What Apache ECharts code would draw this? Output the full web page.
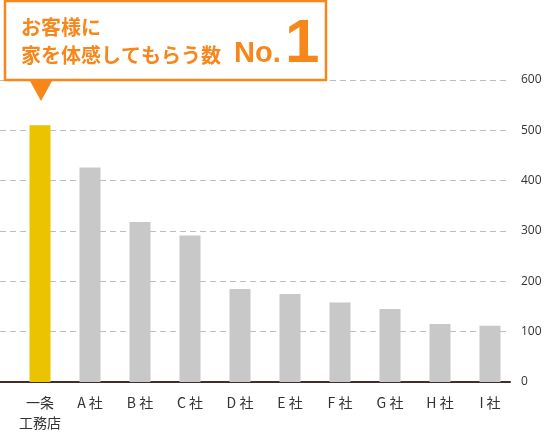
<!DOCTYPE html>
<html>
<head>
<meta charset="utf-8">
<script src="https://cdn.jsdelivr.net/npm/echarts@6/dist/echarts.min.js"></script>
<style>
  html, body { margin: 0; padding: 0; background: #fff; }
  #chart { width: 550px; height: 433px; }
</style>
</head>
<body>
<div id="chart"></div>
<script>
// categories / values
var companies = ['一条\n工務店', 'A 社', 'B 社', 'C 社', 'D 社', 'E 社', 'F 社', 'G 社', 'H 社', 'I 社'];
var visitors = [510, 426, 318, 291, 185, 175, 158, 145, 115, 112];
var yTicks = [0, 100, 200, 300, 400, 500, 600];

var orange = '#f7861b';
var jpFont = '"Noto Sans CJK JP", "Noto Sans", sans-serif';

var chart = echarts.init(document.getElementById('chart'));

// x は会社の並び順 (0..9) を数値軸で置く
var positions = companies.map(function (c, i) { return i; });

var option = {
  backgroundColor: '#ffffff',
  animation: false,
  grid: {
    left: 0,
    right: 40,
    top: 80,
    bottom: 48
  },
  xAxis: {
    type: 'value',
    min: -0.8,
    max: 9.4,
    splitLine: { show: false },
    axisLine: {
      lineStyle: { color: '#3b302c', width: 2 }
    },
    axisTick: { show: false },
    axisLabel: {
      customValues: positions,
      formatter: function (v) { return companies[Math.round(v)]; },
      color: '#333',
      fontSize: 14,
      fontFamily: jpFont,
      lineHeight: 20,
      margin: 11,
      showMinLabel: true,
      showMaxLabel: true
    }
  },
  yAxis: {
    type: 'value',
    position: 'right',
    min: yTicks[0],
    max: yTicks[yTicks.length - 1],
    interval: 100,
    axisLine: { show: false },
    axisTick: { show: false },
    axisLabel: {
      color: '#333',
      fontSize: 12,
      fontFamily: '"Open Sans", sans-serif',
      margin: 11
    },
    splitLine: {
      lineStyle: { color: '#bdbdbd', type: [6, 4], width: 1 }
    }
  },
  series: [{
    type: 'bar',
    barWidth: 21,
    data: visitors.map(function (v, i) {
      return {
        value: [positions[i], v],
        itemStyle: { color: i === 0 ? '#ebc300' : '#c8c8c8' }
      };
    })
  }],
  // 吹き出し
  graphic: [
    {
      type: 'rect',
      shape: { x: 5, y: 1, width: 321, height: 79 },
      style: { fill: '#fff', stroke: orange, lineWidth: 2.5 },
      z: 100
    },
    {
      type: 'polygon',
      shape: { points: [[30, 81], [52, 81], [41, 101]] },
      style: { fill: orange },
      z: 100
    },
    {
      type: 'text',
      style: {
        x: 21, y: 27,
        text: 'お客様に',
        fill: orange,
        font: 'bold 20px ' + jpFont,
        verticalAlign: 'middle'
      },
      z: 101
    },
    {
      type: 'text',
      style: {
        x: 21, y: 55,
        text: '家を体感してもらう数',
        fill: orange,
        font: 'bold 20px ' + jpFont,
        verticalAlign: 'middle'
      },
      z: 101
    },
    {
      type: 'text',
      style: {
        x: 234, y: 54,
        text: 'No.',
        fill: orange,
        font: 'bold 29px "Liberation Sans", Arial, sans-serif',
        verticalAlign: 'middle'
      },
      z: 101
    },
    {
      type: 'text',
      style: {
        x: 285, y: 45,
        text: '1',
        fill: orange,
        font: 'bold 62px "Liberation Sans", Arial, sans-serif',
        verticalAlign: 'middle'
      },
      z: 101
    }
  ]
};

chart.setOption(option);
</script>
</body>
</html>
